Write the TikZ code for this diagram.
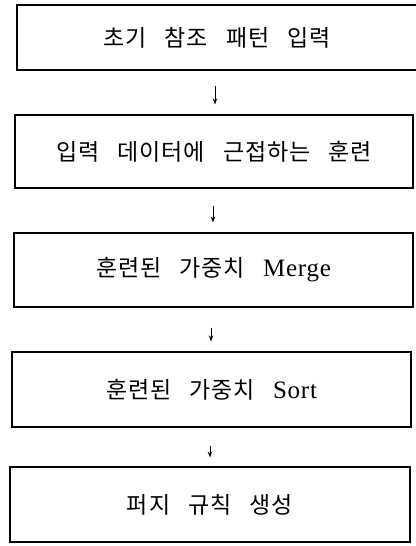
\documentclass[tikz,border=0pt]{standalone}
\usepackage{fontspec}
\setmainfont{Liberation Serif}[LetterSpace=3]
\newfontfamily\kr{Noto Sans CJK KR}[LetterSpace=4,WordSpace=3]
\usetikzlibrary{arrows.meta}
\tikzset{
  box/.style={draw, line width=1.1pt, rectangle, inner sep=0pt,
    font=\fontsize{23bp}{26bp}\selectfont\kr},
  arr/.style={line width=0.9pt, -{Stealth[length=6bp,width=4.5bp]}}
}
\newcommand{\latin}[1]{{\rmfamily\fontsize{25bp}{26bp}\selectfont #1}}
\newcommand{\low}[1]{\raisebox{-3bp}{#1}}
\begin{document}
\begin{tikzpicture}[x=1bp,y=-1bp]
\useasboundingbox (0,0) rectangle (415,546);
\node[box, minimum width=400bp, minimum height=65bp] (b1) at (217,37.5) {\low{초기 참조 패턴 입력}};
\node[box, minimum width=398bp, minimum height=73bp] (b2) at (214,151.5) {\low{입력 데이터에 근접하는 훈련}};
\node[box, minimum width=399bp, minimum height=74bp] (b3) at (213.5,270) {\raisebox{-5bp}{훈련된 가중치 \latin{Merge}}};
\node[box, minimum width=399bp, minimum height=75bp] (b4) at (211.5,389.5) {\low{훈련된 가중치 \latin{Sort}}};
\node[box, minimum width=400bp, minimum height=75bp] (b5) at (210,504.5) {\low{퍼지 규칙 생성}};
\coordinate (x1) at (215,0);
\coordinate (x2) at (213,0);
\coordinate (x3) at (211,0);
\coordinate (x4) at (210,0);
\draw[arr, shorten <=15bp, shorten >=10bp] (b1.south -| x1) -- (b2.north -| x1);
\draw[arr, shorten <=17bp, shorten >=10bp] (b2.south -| x2) -- (b3.north -| x2);
\draw[arr, shorten <=20bp, shorten >=10bp] (b3.south -| x3) -- (b4.north -| x3);
\draw[arr, shorten <=18bp, shorten >=9bp] (b4.south -| x4) -- (b5.north -| x4);
\end{tikzpicture}
\end{document}
